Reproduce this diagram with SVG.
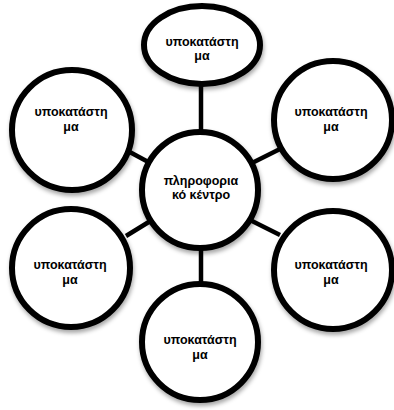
<svg xmlns="http://www.w3.org/2000/svg" width="394" height="410" viewBox="0 0 394 410">
<defs>
<filter id="sh" x="-20%" y="-20%" width="140%" height="150%">
<feDropShadow dx="1" dy="3" stdDeviation="2" flood-color="#000" flood-opacity="0.35"/>
</filter>
<style>
.n{fill:#fff;stroke:#000;stroke-width:6;filter:url(#sh)}
.c{stroke:#000;stroke-width:4.5;fill:none}
text{font-family:"Liberation Sans",Arial,sans-serif;font-weight:bold;font-size:12.5px;fill:#000;text-anchor:middle}
</style>
</defs>
<rect width="394" height="410" fill="#fff"/>
<g id="connectors">
<line class="c" x1="201" y1="84" x2="201" y2="134"/>
<line class="c" x1="126" y1="150" x2="152" y2="164"/>
<line class="c" x1="250" y1="164" x2="280" y2="149"/>
<line class="c" x1="126" y1="236" x2="152" y2="220"/>
<line class="c" x1="250" y1="220" x2="280" y2="235"/>
<line class="c" x1="201" y1="246" x2="201" y2="286"/>
</g>
<g id="center">
<circle class="n" cx="200" cy="190" r="58"/>
<text x="201" y="185">πληροφορια</text>
<text x="201" y="199">κό κέντρο</text>
</g>
<g id="top">
<ellipse class="n" cx="202" cy="45" rx="58" ry="39"/>
<text x="202" y="46">υποκατάστη</text>
<text x="202" y="60">μα</text>
</g>
<g id="left-top">
<circle class="n" cx="72" cy="130" r="60"/>
<text x="71" y="116">υποκατάστη</text>
<text x="71" y="131">μα</text>
</g>
<g id="right-top">
<circle class="n" cx="333" cy="120" r="59"/>
<text x="331" y="116">υποκατάστη</text>
<text x="331" y="131">μα</text>
</g>
<g id="left-bottom">
<circle class="n" cx="71" cy="268" r="59"/>
<text x="70" y="269">υποκατάστη</text>
<text x="70" y="284">μα</text>
</g>
<g id="right-bottom">
<circle class="n" cx="333" cy="270" r="59"/>
<text x="331" y="269">υποκατάστη</text>
<text x="331" y="284">μα</text>
</g>
<g id="bottom">
<circle class="n" cx="200" cy="342" r="58"/>
<text x="200" y="344">υποκατάστη</text>
<text x="200" y="359">μα</text>
</g>
</svg>
